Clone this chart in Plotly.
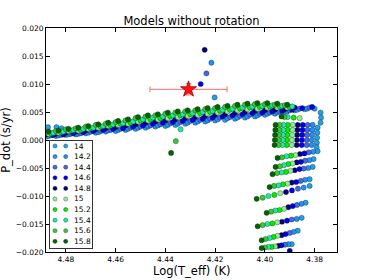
import plotly.graph_objects as go

# ---------------- data ----------------
masses = ["14", "14.2", "14.4", "14.6", "14.8", "15", "15.2", "15.4", "15.6", "15.8"]
colors = ["#1fa3e4", "#1e90ff", "#4169e1", "#0000f0", "#000080",
          "#90ee90", "#00f000", "#20eaa0", "#32cd32", "#006400"]

teff_grid_a = [4.488, 4.484, 4.480, 4.476, 4.472, 4.468, 4.464, 4.460, 4.456, 4.452, 4.448, 4.444, 4.440, 4.436,
               4.432, 4.428, 4.424, 4.420, 4.416, 4.412, 4.408, 4.404, 4.400, 4.396, 4.392, 4.388, 4.384, 4.380]
teff_grid_b = [4.487, 4.483, 4.479, 4.475, 4.471, 4.467, 4.463, 4.459, 4.455, 4.451, 4.447, 4.443, 4.439, 4.435,
               4.431, 4.427, 4.423, 4.419, 4.415, 4.411, 4.407, 4.403, 4.399, 4.395, 4.391, 4.387, 4.383, 4.379]
teff_grid_c = [4.486, 4.482, 4.478, 4.474, 4.470, 4.466, 4.462, 4.458, 4.454, 4.450, 4.446, 4.442, 4.438, 4.434,
               4.430, 4.426, 4.422, 4.418, 4.414, 4.410, 4.406, 4.402, 4.398, 4.394, 4.390, 4.386, 4.382, 4.378]
teff_grid_d = [4.485, 4.481, 4.477, 4.473, 4.469, 4.465, 4.461, 4.457, 4.453, 4.449, 4.445, 4.441, 4.437, 4.433,
               4.429, 4.425, 4.421, 4.417, 4.413, 4.409, 4.405, 4.401, 4.397, 4.393, 4.389, 4.385, 4.381, 4.377]

# main branch, P_dot per model
pdot_main_140 = [0.0006, 0.0007, 0.0009, 0.0010, 0.0012, 0.0013, 0.0015, 0.0016, 0.0018, 0.0020, 0.0022, 0.0024, 0.0025, 0.0027,
                 0.0029, 0.0031, 0.0033, 0.0035, 0.0036, 0.0038, 0.0040, 0.0042, 0.0045, 0.0047, 0.0050, 0.0053, 0.0055, 0.0056]
pdot_main_142 = [0.0007, 0.0008, 0.0010, 0.0011, 0.0013, 0.0014, 0.0017, 0.0018, 0.0020, 0.0022, 0.0024, 0.0026, 0.0027, 0.0029,
                 0.0031, 0.0033, 0.0035, 0.0037, 0.0039, 0.0040, 0.0042, 0.0044, 0.0047, 0.0049, 0.0051, 0.0054, 0.0056]
pdot_main_144 = [0.0008, 0.0009, 0.0011, 0.0012, 0.0015, 0.0016, 0.0018, 0.0020, 0.0022, 0.0024, 0.0026, 0.0028, 0.0030, 0.0032,
                 0.0034, 0.0036, 0.0038, 0.0040, 0.0041, 0.0043, 0.0045, 0.0047, 0.0049, 0.0051, 0.0053, 0.0056, 0.0058]
pdot_main_146 = [0.0009, 0.0010, 0.0012, 0.0014, 0.0016, 0.0018, 0.0020, 0.0021, 0.0024, 0.0026, 0.0029, 0.0031, 0.0032, 0.0034,
                 0.0036, 0.0038, 0.0040, 0.0042, 0.0044, 0.0046, 0.0048, 0.0049, 0.0051, 0.0052, 0.0054, 0.0057, 0.0059]
pdot_main_148 = [0.0010, 0.0011, 0.0013, 0.0015, 0.0017, 0.0019, 0.0021, 0.0023, 0.0026, 0.0028, 0.0031, 0.0033, 0.0035, 0.0037,
                 0.0039, 0.0041, 0.0043, 0.0045, 0.0046, 0.0048, 0.0050, 0.0052, 0.0053, 0.0054, 0.0055, 0.0058]
pdot_main_150 = [0.0011, 0.0013, 0.0016, 0.0017, 0.0020, 0.0022, 0.0025, 0.0027, 0.0029, 0.0033, 0.0035, 0.0037, 0.0039, 0.0041,
                 0.0043, 0.0045, 0.0047, 0.0049, 0.0051, 0.0053, 0.0055, 0.0056, 0.0058, 0.0058, 0.0058]
pdot_main_152 = [0.0012, 0.0014, 0.0017, 0.0018, 0.0021, 0.0024, 0.0026, 0.0029, 0.0031, 0.0035, 0.0037, 0.0039, 0.0042, 0.0044,
                 0.0046, 0.0048, 0.0050, 0.0052, 0.0054, 0.0056, 0.0058, 0.0059, 0.0060, 0.0060, 0.0059]
pdot_main_154 = [0.0013, 0.0015, 0.0018, 0.0020, 0.0022, 0.0025, 0.0028, 0.0030, 0.0033, 0.0037, 0.0040, 0.0042, 0.0044, 0.0046,
                 0.0048, 0.0050, 0.0052, 0.0054, 0.0056, 0.0058, 0.0060, 0.0061, 0.0062, 0.0061, 0.0060]
pdot_main_156 = [0.0014, 0.0016, 0.0019, 0.0021, 0.0024, 0.0027, 0.0029, 0.0032, 0.0035, 0.0039, 0.0042, 0.0044, 0.0047, 0.0049,
                 0.0051, 0.0053, 0.0055, 0.0057, 0.0059, 0.0061, 0.0063, 0.0064, 0.0064, 0.0063, 0.0062]
pdot_main_158 = [0.0015, 0.0017, 0.0020, 0.0022, 0.0025, 0.0028, 0.0031, 0.0034, 0.0037, 0.0041, 0.0044, 0.0046, 0.0049, 0.0051,
                 0.0053, 0.0055, 0.0057, 0.0059, 0.0061, 0.0063, 0.0065, 0.0066, 0.0066, 0.0065, 0.0063]

# blue-loop / descending part and isolated models
teff_loop_140 = [4.4872, 4.4838, 4.4818, 4.3776, 4.3774, 4.3776, 4.3788, 4.3789, 4.3790, 4.3791, 4.3792, 4.3788, 4.3804,
                 4.3808, 4.3820, 4.3820, 4.3836, 4.3852, 4.3868, 4.3892, 4.4202]
pdot_loop_140 = [0.0023, 0.0023, 0.0021, 0.0049, 0.0040, 0.0031, 0.0022, 0.0013, 0.0004, -0.0005, -0.0013, -0.0020, -0.0034,
                 -0.0048, -0.0070, -0.0082, -0.0112, -0.0139, -0.0162, -0.0186, 0.0076]
teff_loop_142 = [4.3808, 4.3809, 4.3810, 4.3811, 4.3812, 4.3806, 4.3821, 4.3826, 4.3838, 4.3844, 4.3853, 4.3872, 4.3884,
                 4.3906, 4.4215]
pdot_loop_142 = [0.0027, 0.0018, 0.0009, 0.0000, -0.0009, -0.0021, -0.0036, -0.0050, -0.0071, -0.0085, -0.0114, -0.0141,
                 -0.0164, -0.0186, 0.0138]
teff_loop_144 = [4.3828, 4.3829, 4.3830, 4.3831, 4.3832, 4.3824, 4.3838, 4.3844, 4.3856, 4.3867, 4.3871, 4.3892, 4.3900,
                 4.3919, 4.4235]
pdot_loop_144 = [0.0027, 0.0018, 0.0009, 0.0000, -0.0009, -0.0022, -0.0037, -0.0051, -0.0073, -0.0087, -0.0116, -0.0142,
                 -0.0166, -0.0187, 0.0119]
teff_loop_146 = [4.3848, 4.3849, 4.3850, 4.3851, 4.3852, 4.3841, 4.3855, 4.3861, 4.3874, 4.3891, 4.3888, 4.3911, 4.3917,
                 4.3933, 4.4258]
pdot_loop_146 = [0.0027, 0.0018, 0.0009, 0.0000, -0.0009, -0.0024, -0.0039, -0.0052, -0.0075, -0.0090, -0.0118, -0.0144,
                 -0.0168, -0.0188, 0.0100]
teff_loop_148 = [4.3868, 4.3869, 4.3870, 4.3871, 4.3872, 4.3859, 4.3872, 4.3880, 4.3892, 4.3915, 4.3906, 4.3931, 4.3933,
                 4.3946, 4.3900, 4.4242]
pdot_loop_148 = [0.0027, 0.0018, 0.0009, 0.0000, -0.0009, -0.0025, -0.0040, -0.0054, -0.0076, -0.0093, -0.0120, -0.0146,
                 -0.0170, -0.0189, -0.0198, 0.0161]
teff_loop_150 = [4.3860, 4.3888, 4.3889, 4.3890, 4.3891, 4.3892, 4.3877, 4.3889, 4.3897, 4.3909, 4.3938, 4.3923, 4.3950,
                 4.3949, 4.3959]
pdot_loop_150 = [0.0039, 0.0027, 0.0018, 0.0009, 0.0000, -0.0009, -0.0027, -0.0042, -0.0055, -0.0078, -0.0095, -0.0123,
                 -0.0147, -0.0171, -0.0190]
teff_loop_152 = [4.3884, 4.3908, 4.3909, 4.3910, 4.3911, 4.3912, 4.3895, 4.3906, 4.3915, 4.3927, 4.3962, 4.3941, 4.3970,
                 4.3965, 4.3973]
pdot_loop_152 = [0.0040, 0.0027, 0.0018, 0.0009, 0.0000, -0.0009, -0.0028, -0.0043, -0.0057, -0.0079, -0.0098, -0.0125,
                 -0.0149, -0.0173, -0.0191]
teff_loop_154 = [4.3908, 4.3925, 4.3926, 4.3927, 4.3928, 4.3929, 4.3913, 4.3923, 4.3933, 4.3945, 4.3986, 4.3958, 4.3990,
                 4.3981, 4.3986, 4.4339]
pdot_loop_154 = [0.0041, 0.0027, 0.0018, 0.0009, 0.0000, -0.0009, -0.0029, -0.0045, -0.0058, -0.0081, -0.0100, -0.0126,
                 -0.0150, -0.0175, -0.0191, 0.0019]
teff_loop_156 = [4.3921, 4.3941, 4.3942, 4.3943, 4.3944, 4.3945, 4.3931, 4.3940, 4.3951, 4.3963, 4.4009, 4.3975, 4.4009,
                 4.3997, 4.4000, 4.4358]
pdot_loop_156 = [0.0041, 0.0027, 0.0018, 0.0009, 0.0000, -0.0009, -0.0031, -0.0047, -0.0059, -0.0082, -0.0103, -0.0128,
                 -0.0152, -0.0177, -0.0192, -0.0002]
teff_loop_158 = [4.3933, 4.3957, 4.3958, 4.3959, 4.3960, 4.3961, 4.3949, 4.3957, 4.3969, 4.3981, 4.4033, 4.3993, 4.4029,
                 4.4013, 4.4013, 4.4377]
pdot_loop_158 = [0.0042, 0.0027, 0.0018, 0.0009, 0.0000, -0.0009, -0.0032, -0.0048, -0.0061, -0.0084, -0.0105, -0.0130,
                 -0.0154, -0.0179, -0.0193, -0.0023]

# observed star
obs_teff = [4.4307]
obs_teff_err = [0.0155]
obs_pdot = [0.00905]
obs_pdot_err = [0.0010]

x_ticks = [4.48, 4.46, 4.44, 4.42, 4.40, 4.38]
y_ticks = [-0.020, -0.015, -0.010, -0.005, 0.000, 0.005, 0.010, 0.015, 0.020]

# ---------------- figure ----------------
series = [
    (teff_grid_a, pdot_main_140, teff_loop_140, pdot_loop_140),
    (teff_grid_b, pdot_main_142, teff_loop_142, pdot_loop_142),
    (teff_grid_c, pdot_main_144, teff_loop_144, pdot_loop_144),
    (teff_grid_d, pdot_main_146, teff_loop_146, pdot_loop_146),
    (teff_grid_a, pdot_main_148, teff_loop_148, pdot_loop_148),
    (teff_grid_b, pdot_main_150, teff_loop_150, pdot_loop_150),
    (teff_grid_c, pdot_main_152, teff_loop_152, pdot_loop_152),
    (teff_grid_d, pdot_main_154, teff_loop_154, pdot_loop_154),
    (teff_grid_a, pdot_main_156, teff_loop_156, pdot_loop_156),
    (teff_grid_b, pdot_main_158, teff_loop_158, pdot_loop_158),
]

FONT = "DejaVu Sans"
fig = go.Figure()
for (grid, ymain, xl, yl), name, col in zip(series, masses, colors):
    xs = list(grid[:len(ymain)]) + list(xl)
    ys = list(ymain) + list(yl)
    fig.add_trace(go.Scatter(
        x=xs, y=ys, mode="markers", name=name, showlegend=False,
        marker=dict(size=5.2, color=col, line=dict(width=0.5, color="rgba(30,30,30,0.7)")),
    ))

fig.add_trace(go.Scatter(
    x=obs_teff, y=obs_pdot, mode="markers", showlegend=False,
    marker=dict(symbol="star", size=12, color="#ff1010", line=dict(width=0.8, color="#a00000")),
    error_x=dict(type="data", array=obs_teff_err, color="#f07070", thickness=1, width=3),
    error_y=dict(type="data", array=obs_pdot_err, color="#f07070", thickness=1, width=3),
))

# legend drawn as an inset panel (one row per mass)
for i, (name, col) in enumerate(zip(masses, colors)):
    fig.add_trace(go.Scatter(
        x=[5.3, 16.0], y=[i, i], xaxis="x2", yaxis="y2", mode="markers", showlegend=False,
        marker=dict(size=4.2, color=col, line=dict(width=0.5, color="rgba(30,30,30,0.7)")),
        hoverinfo="skip",
    ))
    fig.add_annotation(x=22.5, y=i, xref="x2", yref="y2", text=name, showarrow=False,
                       xanchor="left", yanchor="middle", font=dict(family=FONT, size=7.5, color="black"))

# axis titles placed in the margins
fig.add_annotation(x=-0.138, y=0.5, xref="paper", yref="paper", text="P_dot (s/yr)", textangle=-90,
                   showarrow=False, xanchor="center", yanchor="middle",
                   font=dict(family=FONT, size=11.5, color="black"))
fig.add_annotation(x=0.5, y=-0.085, xref="paper", yref="paper", text="Log(T_eff) (K)",
                   showarrow=False, xanchor="center", yanchor="middle",
                   font=dict(family=FONT, size=11.5, color="black"))

axis_common = dict(showline=True, linecolor="black", linewidth=1, mirror="allticks",
                   ticks="inside", ticklen=4, tickwidth=1, tickcolor="black",
                   showgrid=False, zeroline=False, automargin=False,
                   tickfont=dict(family=FONT, size=7.5, color="black"))

fig.update_layout(
    template="none",
    width=374, height=280,
    margin=dict(l=46, r=37, t=28, b=28, autoexpand=False),
    paper_bgcolor="white", plot_bgcolor="white",
    showlegend=False,
    hovermode=False,
    title=dict(text="Models without rotation", x=0.5, xref="paper", xanchor="center",
               y=0.926, yref="container", yanchor="middle",
               font=dict(family=FONT, size=11.5, color="black")),
    xaxis=dict(range=[4.488, 4.371], tickvals=x_ticks, tickformat=".2f", **axis_common),
    yaxis=dict(range=[-0.020, 0.020], tickvals=y_ticks, tickformat=".3f", **axis_common),
    xaxis2=dict(domain=[0.0127, 0.157], anchor="y2", range=[0, 42], showline=True, mirror=True,
                linecolor="#333333", linewidth=1, showgrid=False, zeroline=False, showticklabels=False,
                ticks="", fixedrange=True, automargin=False),
    yaxis2=dict(domain=[0.018, 0.4955], anchor="x2", range=[9.623, -0.472], showline=True, mirror=True,
                linecolor="#333333", linewidth=1, showgrid=False, zeroline=False, showticklabels=False,
                ticks="", fixedrange=True, automargin=False),
    font=dict(family=FONT, color="black"),
)

# remove the default page margin so the 374x280 figure fills the window exactly
fig.write_html("out.html",
               config={"displayModeBar": False, "staticPlot": True},
               post_script="document.body.style.margin='0';document.body.style.overflow='hidden';")
